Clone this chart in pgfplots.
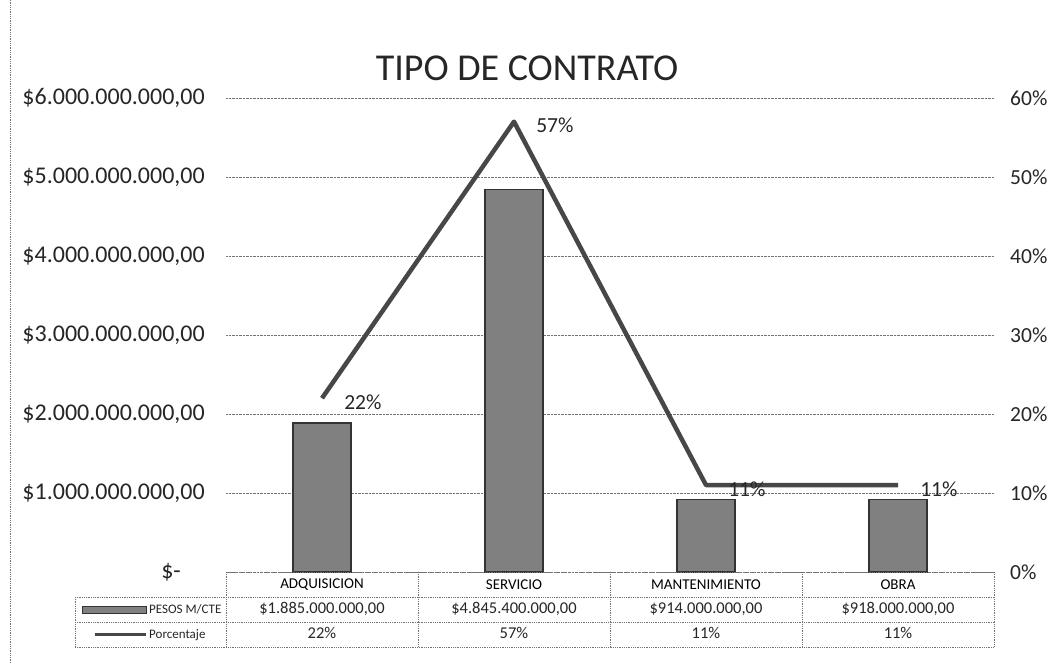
\documentclass[border=0pt]{standalone}
\usepackage{pgfplots}
\usepackage{pgfplotstable}
\pgfplotsset{compat=1.18}
\usepackage{fontspec}
\setmainfont{Carlito}
\definecolor{bargray}{HTML}{808080}
\definecolor{linegray}{HTML}{474747}
\begin{document}
\pgfplotstableread{
idx pesos pct
0 1885000000 22
1 4845400000 57
2 914000000 11
3 918000000 11
}\datatable
\begin{tikzpicture}
\path[use as bounding box] (-226pt,-91pt) rectangle (836pt,572pt);
\begin{axis}[
  at={(0pt,0pt)}, anchor=south west,
  scale only axis, width=768pt, height=474pt,
  xmin=-0.5, xmax=3.5, ymin=0, ymax=6e9,
  scaled y ticks=false,
  clip=false,
  axis line style={draw=none},
  major tick style={draw=none},
  ymajorgrids, grid style={densely dotted, black!55, line width=0.8pt},
  ytick={0,1e9,2e9,3e9,4e9,5e9,6e9},
  yticklabels={\$-\hspace*{24pt},\$1.000.000.000{,}00,\$2.000.000.000{,}00,\$3.000.000.000{,}00,\$4.000.000.000{,}00,\$5.000.000.000{,}00,\$6.000.000.000{,}00},
  yticklabel style={font=\fontsize{24}{26}\selectfont, text=black!85, anchor=east, inner sep=0pt, xshift=-21pt},
  xtick={0,1,2,3},
  xticklabels={ADQUISICION,SERVICIO,MANTENIMIENTO,OBRA},
  xticklabel style={font=\fontsize{15}{17}\selectfont, anchor=center, inner sep=0pt, yshift=-12.5pt},
]
\addplot[ybar, bar width=58pt, fill=bargray, draw=black!80, line width=1.4pt] table[x=idx, y=pesos] {\datatable};
\end{axis}
\begin{axis}[
  at={(0pt,0pt)}, anchor=south west,
  scale only axis, width=768pt, height=474pt,
  xmin=-0.5, xmax=3.5, ymin=0, ymax=60,
  clip=false,
  axis y line*=right, axis x line=none,
  axis line style={draw=none},
  major tick style={draw=none},
  ytick={0,10,20,30,40,50,60},
  yticklabels={0\%,10\%,20\%,30\%,40\%,50\%,60\%},
  yticklabel style={font=\fontsize{21.5}{24}\selectfont, text=black!85, anchor=west, inner sep=0pt, xshift=16pt},
]
\addplot[linegray, line width=4.5pt, line join=round,
  nodes near coords={\pgfmathprintnumber[assume math mode=true]{\pgfplotspointmeta}\%},
  point meta=y,
  every node near coord/.append style={font=\fontsize{21.5}{24}\selectfont, text=black!85, anchor=west, inner sep=0pt, xshift=20pt, yshift=-4pt}
] table[x=idx, y=pct] {\datatable};
\end{axis}
% title
\node[font=\fontsize{38}{42}\selectfont, text=black!85] at (301pt,504pt) {TIPO DE CONTRATO};
% data table
\begin{scope}[densely dotted, black!55, line width=0.8pt]
\draw (0pt,0pt) -- (768pt,0pt);
\draw (-151pt,-25pt) -- (768pt,-25pt);
\draw (-151pt,-50pt) -- (768pt,-50pt);
\draw (-151pt,-75pt) -- (768pt,-75pt);
\draw (-151pt,-25pt) -- (-151pt,-75pt);
\foreach \xx in {0,192,384,576,768} {\draw (\xx pt,0pt) -- (\xx pt,-75pt);}
\draw (-216pt,-91pt) -- (-216pt,572pt);
\end{scope}
\begin{scope}[font=\fontsize{16.5}{18}\selectfont, text=black!85, every node/.style={text height=11pt, text depth=3pt}]
\node at (96pt,-37.5pt) {\$1.885.000.000,00};
\node at (288pt,-37.5pt) {\$4.845.400.000,00};
\node at (480pt,-37.5pt) {\$914.000.000,00};
\node at (672pt,-37.5pt) {\$918.000.000,00};
\node at (96pt,-62.5pt) {22\%};
\node at (288pt,-62.5pt) {57\%};
\node at (480pt,-62.5pt) {11\%};
\node at (672pt,-62.5pt) {11\%};
\fill[bargray, draw=black!80, line width=0.6pt] (-144pt,-41pt) rectangle (-80pt,-34pt);
\draw[linegray, line width=3pt] (-131pt,-62.5pt) -- (-80pt,-62.5pt);
\node[anchor=west, inner sep=0pt, font=\fontsize{13}{15}\selectfont] at (-77pt,-37.5pt) {PESOS M/CTE};
\node[anchor=west, inner sep=0pt, font=\fontsize{13}{15}\selectfont] at (-77pt,-62.5pt) {Porcentaje};
\end{scope}
\end{tikzpicture}
\end{document}
